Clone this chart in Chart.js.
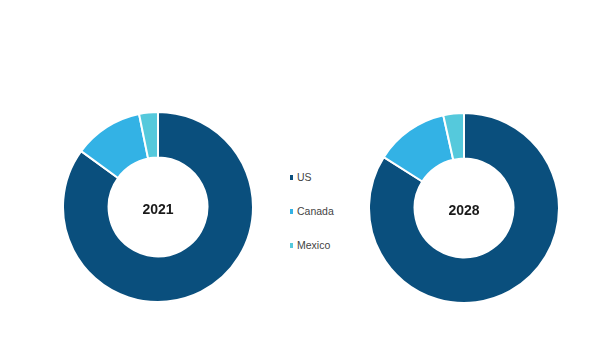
<!DOCTYPE html>
<html>
<head>
<meta charset="utf-8">
<script src="https://cdn.jsdelivr.net/npm/chart.js@4.4.1/dist/chart.umd.min.js"></script>
<style>
    html, body { margin: 0; padding: 0; background: #fff; }
    .stage { position: relative; width: 600px; height: 364px; overflow: hidden; }
    .donut { position: absolute; width: 192px; height: 192px; }
    .legend { position: absolute; left: 289px; top: 168px; font-family: 'Liberation Sans', Arial, sans-serif; font-size: 10.5px; color: #444; }
    .legend-item { position: relative; height: 34px; line-height: 18px; padding-left: 8px; }
    .legend-item span { position: absolute; left: 1px; top: 7px; width: 3px; height: 5px; }
</style>
</head>
<body>
<div class="stage">
    <div class="donut" style="left:62px; top:111px;"><canvas id="chart2021"></canvas></div>
    <div class="donut" style="left:368px; top:112px;"><canvas id="chart2028"></canvas></div>
    <div class="legend" id="legend"></div>
</div>
<script>
const categories = ['US', 'Canada', 'Mexico'];
const years = ['2021', '2028'];
const share2021 = [85.0, 11.8, 3.2];
const share2028 = [84.0, 12.5, 3.5];
const colors = ['#0a4f7d', '#33b2e5', '#55c9dc'];

// Year label in the hole
const centerLabel = {
    id: 'centerLabel',
    afterDraw(chart, args, opts) {
        const arc = chart.getDatasetMeta(0).data[0];
        if (!arc) return;
        const ctx = chart.ctx;
        ctx.save();
        ctx.font = 'bold 14px "Liberation Sans", Arial, sans-serif';
        ctx.fillStyle = '#1a1a1a';
        ctx.textAlign = 'center';
        ctx.textBaseline = 'middle';
        ctx.fillText(opts.text, arc.x, arc.y + 3);
        ctx.restore();
    }
};

function makeDonut(id, values, year) {
    const ctx = document.getElementById(id);
    new Chart(ctx, {
        type: 'doughnut',
        data: {
            labels: categories,
            datasets: [{
                data: values,
                backgroundColor: colors,
                borderColor: '#fff',
                borderWidth: 2
            }]
        },
        options: {
            responsive: true,
            maintainAspectRatio: false,
            animation: false,
            cutout: '52%',
            layout: { padding: 0 },
            plugins: {
                legend: { display: false },
                tooltip: { enabled: false },
                centerLabel: { text: year }
            }
        },
        plugins: [centerLabel]
    });
}

makeDonut('chart2021', share2021, years[0]);
makeDonut('chart2028', share2028, years[1]);

// Legend
const legend = document.getElementById('legend');
categories.forEach((name, i) => {
    const item = document.createElement('div');
    item.className = 'legend-item';
    const box = document.createElement('span');
    box.style.background = colors[i];
    item.appendChild(box);
    item.appendChild(document.createTextNode(name));
    legend.appendChild(item);
});
</script>
</body>
</html>
